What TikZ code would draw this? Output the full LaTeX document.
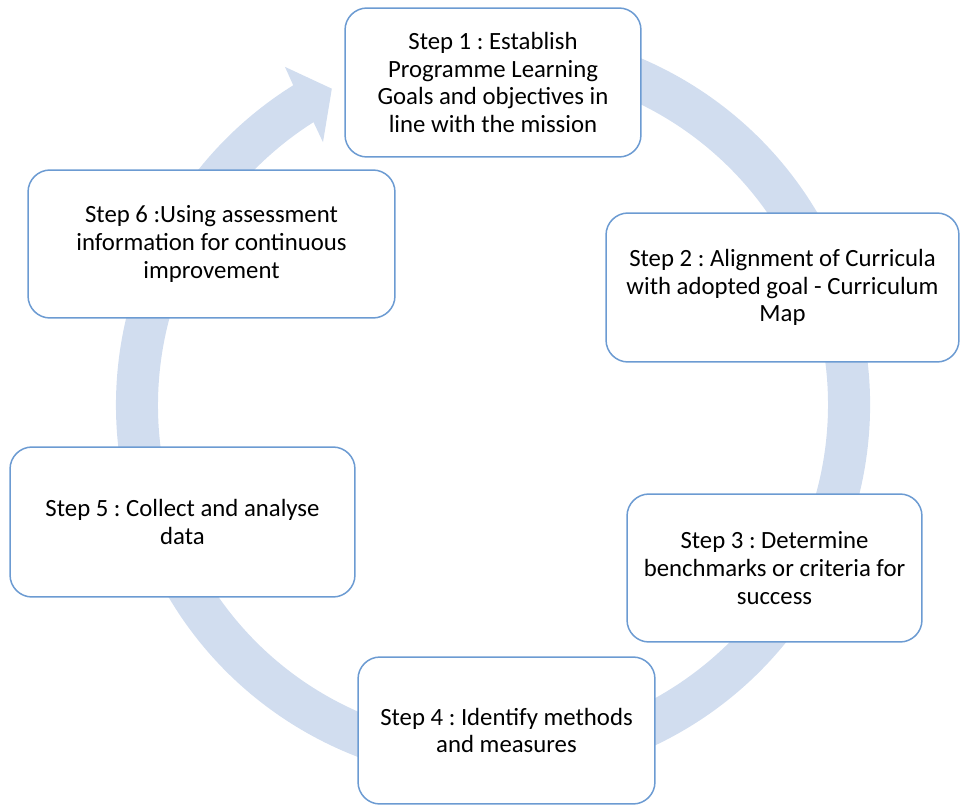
\documentclass[tikz,border=0pt]{standalone}
\usepackage{fontspec}
\setmainfont{Carlito}
\usetikzlibrary{positioning}
\definecolor{ringblue}{HTML}{D1DDEF}
\definecolor{edgeblue}{HTML}{6C9BD2}
\frenchspacing
\begin{document}
\begin{tikzpicture}[x=0.02cm,y=-0.02cm,
  stepbox/.style={draw=edgeblue,line width=0.85pt,fill=white,rounded corners=0.44cm,
    align=center,inner sep=0pt,font=\fontsize{14.1}{15.8}\selectfont}]

\useasboundingbox (0,0) rectangle (961,805);

\begin{scope}[shift={(493,405)},y=0.02cm]
\fill[ringblue] (112:377) arc[start angle=112,end angle=-238,radius=377]
   -- (121.6:397) -- (117:355) -- (122.9:313) -- (122.4:335)
   arc[start angle=-237.6,end angle=112,radius=335] -- cycle;
\end{scope}

\node[stepbox,minimum width=5.92cm,minimum height=2.98cm] (s1) at (493,82.5)
  {Step 1 : Establish\\Programme Learning\\Goals and objectives in\\line with the mission};
\node[stepbox,minimum width=7.06cm,minimum height=2.98cm] (s2) at (782.5,287.5)
  {Step 2 : Alignment of Curricula\\with adopted goal - Curriculum\\Map};
\node[stepbox,minimum width=5.9cm,minimum height=2.96cm] (s3) at (774.5,568)
  {Step 3 : Determine\\benchmarks or criteria for\\success};
\node[stepbox,minimum width=5.94cm,minimum height=2.94cm] (s4) at (506.5,730.5)
  {Step 4 : Identify methods\\and measures};
\node[stepbox,minimum width=6.9cm,minimum height=3cm] (s5) at (182.5,522)
  {Step 5 : Collect and analyse\\data};
\node[stepbox,minimum width=7.34cm,minimum height=2.96cm] (s6) at (211.5,244)
  {Step 6 :Using assessment\\information for continuous\\improvement};

\end{tikzpicture}
\end{document}
